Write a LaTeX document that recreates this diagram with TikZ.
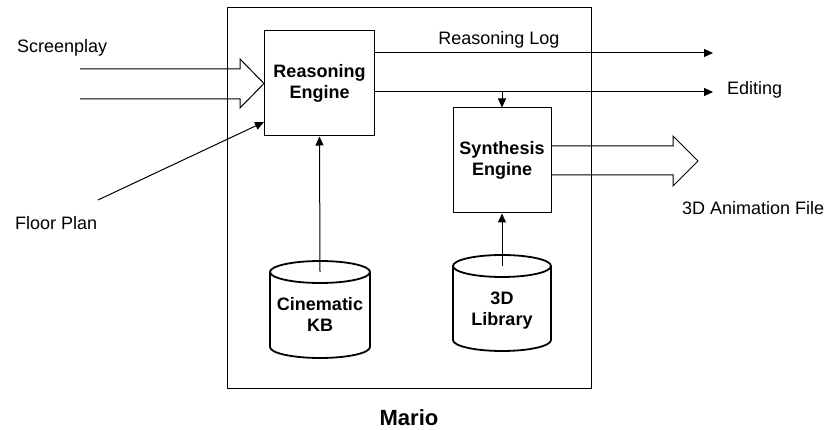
\documentclass[tikz,border=0pt]{standalone}
\usepackage{fontspec}
\setmainfont{Liberation Sans}
\usetikzlibrary{arrows.meta}
\begin{document}
\begin{tikzpicture}[x=1pt,y=-1pt,
  box/.style={draw, line width=1pt, minimum width=110pt, minimum height=105pt, inner sep=0pt,
    font=\bfseries\fontsize{18}{21}\selectfont, align=center},
  cyltext/.style={inner sep=0pt, font=\bfseries\fontsize{18}{21}\selectfont, align=center},
  lbl/.style={font=\fontsize{18}{21}\selectfont, inner sep=0pt},
  cyl/.style={line width=1.8pt},
  arr/.style={line width=1pt, -{Triangle[length=9pt,width=8pt]}},
  hollow/.style={line width=1pt, line join=miter}]
\useasboundingbox (0,0) rectangle (830,430);
% outer system box
\node[draw, line width=1pt, minimum width=364pt, minimum height=380pt, inner sep=0pt] (sys) at (409,198) {};
% engines
\node[box] (re) at (319.5,83.5) {Reasoning\\Engine};
\node[box, minimum width=98pt] (se) at (502,160.5) {Synthesis\\Engine};
% cylinders
\draw[cyl] (270,272) -- (270,347) arc[start angle=180, end angle=0, x radius=50, y radius=11] -- (370,272);
\draw[cyl] (320,272) ellipse [x radius=50, y radius=11];
\coordinate (ckbtop) at (320,272);
\node[cyltext] (ckb) at (320,314) {Cinematic\\KB};
\draw[cyl] (453,266) -- (453,340) arc[start angle=180, end angle=0, x radius=49, y radius=11] -- (551,266);
\draw[cyl] (502,266) ellipse [x radius=49, y radius=11];
\coordinate (libtop) at (502,266);
\node[cyltext] (lib) at (502,311) {3D\\Library};
% internal arrows
\draw[arr] (ckbtop) -- (re.south);
\draw[arr] (libtop) -- (se.south);
% outputs
\coordinate (logend) at (713,53);
\coordinate (editend) at (713,92);
\draw[arr] (re.east |- logend) -- (logend);
\draw[arr] (re.east |- editend) -- (editend);
\draw[arr] (se.north |- editend) -- (se.north);
% screenplay hollow arrow
\coordinate (spa) at (80,69);
\coordinate (spb) at (80,99);
\draw[hollow] (spa) -- (240,69) -- (240,59) -- (re.west) -- (240,108) -- (240,99) -- (spb);
% animation hollow arrow
\coordinate (animtip) at (698,161);
\draw[hollow] (se.east |- 0,146) -- (673,146) -- (673,136) -- (animtip) -- (673,186) -- (673,175) -- (se.east |- 0,175);
% floor plan
\coordinate (fp) at (98,200);
\draw[arr] (fp) -- (re.west |- 0,122);
% labels
\node[lbl, anchor=base west] (sp) at (17,53) {Screenplay};
\node[lbl, anchor=base west] (fpl) at (15,230) {Floor Plan};
\node[lbl, anchor=base] (rl) at (499,45) {Reasoning Log};
\node[lbl, anchor=base west] (ed) at (727,95) {Editing};
\node[lbl, anchor=base west] (af) at (682,215) {3D Animation File};
\node[font=\bfseries\fontsize{22}{26}\selectfont, anchor=base, inner sep=0pt] (mario) at (409,425) {Mario};
\end{tikzpicture}
\end{document}
